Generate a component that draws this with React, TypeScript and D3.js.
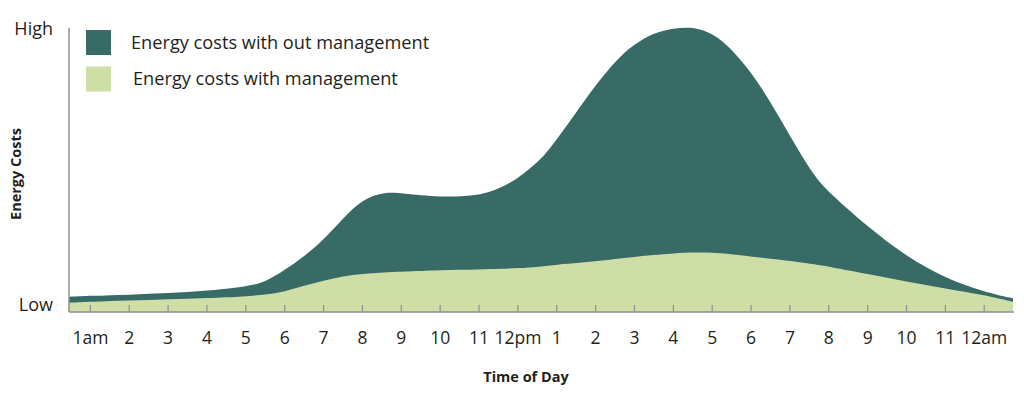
import React, { useEffect, useRef } from 'react';
import * as d3 from 'd3';

// hour of day (1 = 1am ... 24 = 12am)
const hours = [
  0.45, 1, 2, 3, 4, 5, 5.5, 6, 6.5, 7, 7.5, 8, 8.6, 9, 10, 11, 11.6, 12, 12.55, 13,
  13.6, 14.1, 14.65, 15.05, 15.45, 16, 16.55, 17, 17.4, 18, 18.5, 19, 19.6, 20, 21, 22, 23, 24, 24.74,
];

// relative cost, 0 = Low, 100 = High
const costWithoutManagement = [
  5.4, 5.7, 6.1, 6.6, 7.5, 8.9, 10.5, 14.8, 19.5, 25.4, 33, 39.8, 42.3, 41.8, 40.4, 40.8, 43.9, 47.1, 52.9, 60.6,
  72.3, 81.7, 90.5, 94.6, 98.1, 100, 100.4, 98.1, 94, 84.6, 74, 62, 48.2, 42.1, 30, 19.5, 11.9, 7.1, 4.8,
];

const costWithManagement = [
  3.3, 3.6, 4.0, 4.5, 4.9, 5.5, 6.1, 7.1, 9.3, 11.0, 12.7, 13.4, 14.0, 14.2, 14.8, 15.0, 15.2, 15.4, 15.9, 16.7,
  17.3, 18.0, 18.9, 19.5, 20.0, 20.7, 21.0, 20.9, 20.6, 19.5, 18.8, 18.0, 16.8, 16.0, 13.4, 10.7, 8.3, 6.0, 3.6,
];

const tickHours = [1, 2, 3, 4, 5, 6, 7, 8, 9, 10, 11, 12, 13, 14, 15, 16, 17, 18, 19, 20, 21, 22, 23, 24];
const tickLabels = [
  '1am', '2', '3', '4', '5', '6', '7', '8', '9', '10', '11', '12pm',
  '1', '2', '3', '4', '5', '6', '7', '8', '9', '10', '11', '12am',
];

const seriesNames = ['Energy costs with out management', 'Energy costs with management'];
const seriesColors = ['#386b66', '#cfdea6'];

export default function App() {
  const svgRef = useRef<SVGSVGElement>(null);

  useEffect(() => {
    if (!svgRef.current) return;
    const width = 1024;
    const height = 393;
    const left = 69;
    const right = 1013;
    const top = 28;
    const bottom = 312;
    const font = "'Open Sans', 'Noto Sans', sans-serif";
    const axisColor = '#8f8f8f';
    const textColor = '#231f20';

    const svg = d3.select(svgRef.current);
    svg.selectAll('*').remove();
    svg.attr('viewBox', [0, 0, width, height]).style('font-family', font);

    const x = d3.scaleLinear().domain([0.45, 24.74]).range([left, right]);
    const y = d3.scaleLinear().domain([0, 100]).range([bottom, top]);

    const area = (vals: number[]) =>
      d3.area<number>()
        .x((_, i) => x(hours[i]))
        .y0(y(0))
        .y1((d) => y(d))
        .curve(d3.curveBasis)(vals);

    svg.append('path').attr('d', area(costWithoutManagement)).attr('fill', seriesColors[0]);
    svg.append('path').attr('d', area(costWithManagement)).attr('fill', seriesColors[1]);

    // axes
    svg.append('line')
      .attr('x1', left).attr('x2', left)
      .attr('y1', top).attr('y2', bottom)
      .attr('stroke', axisColor).attr('stroke-width', 1.5);
    svg.append('line')
      .attr('x1', left).attr('x2', right + 1)
      .attr('y1', bottom).attr('y2', bottom)
      .attr('stroke', axisColor).attr('stroke-width', 1.5);

    svg.selectAll('line.tick')
      .data(tickHours)
      .enter()
      .append('line')
      .attr('class', 'tick')
      .attr('x1', (d) => x(d)).attr('x2', (d) => x(d))
      .attr('y1', bottom - 7).attr('y2', bottom)
      .attr('stroke', axisColor).attr('stroke-width', 1.2);

    svg.selectAll('text.tick')
      .data(tickHours)
      .enter()
      .append('text')
      .attr('class', 'tick')
      .attr('x', (d) => x(d))
      .attr('y', 338)
      .attr('dy', '0.35em')
      .attr('text-anchor', 'middle')
      .attr('font-size', 17.5)
      .attr('fill', textColor)
      .text((_, i) => tickLabels[i]);

    // y labels
    svg.append('text')
      .attr('x', 53).attr('y', y(100) + 1).attr('dy', '0.35em')
      .attr('text-anchor', 'end').attr('font-size', 18).attr('fill', textColor)
      .text('High');
    svg.append('text')
      .attr('x', 53).attr('y', y(0) - 7).attr('dy', '0.35em')
      .attr('text-anchor', 'end').attr('font-size', 18).attr('fill', textColor)
      .text('Low');

    svg.append('text')
      .attr('transform', `translate(16,${(top + bottom) / 2 + 4}) rotate(-90)`)
      .attr('text-anchor', 'middle').attr('dy', '0.35em')
      .attr('font-size', 14.5).attr('font-weight', 700).attr('fill', textColor)
      .text('Energy Costs');

    svg.append('text')
      .attr('x', 526).attr('y', 377).attr('dy', '0.35em')
      .attr('text-anchor', 'middle')
      .attr('font-size', 14.5).attr('font-weight', 700).attr('fill', textColor)
      .text('Time of Day');

    // legend
    const legend = svg.append('g')
      .selectAll('g')
      .data(seriesNames)
      .enter()
      .append('g')
      .attr('transform', (_, i) => `translate(86,${30 + i * 36.5})`);
    legend.append('rect')
      .attr('width', 25).attr('height', 25)
      .attr('fill', (_, i) => seriesColors[i]);
    legend.append('text')
      .attr('x', (_, i) => (i === 0 ? 45 : 47))
      .attr('y', 12.5).attr('dy', '0.35em')
      .attr('font-size', 18.2).attr('fill', textColor)
      .text((d) => d);
  }, []);

  return (
    <div style={{ position: 'absolute', left: 0, top: 0, width: 1024, height: 393, background: '#fff' }}>
      <svg ref={svgRef} width={1024} height={393} style={{ display: 'block' }} />
    </div>
  );
}
